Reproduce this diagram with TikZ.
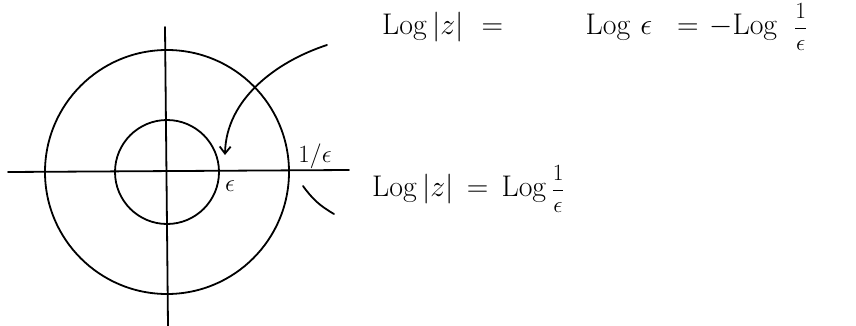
\documentclass[tikz,border=0pt]{standalone}
\usepackage{graphicx}
\usepackage{amsmath}
\usetikzlibrary{arrows.meta}
\newcommand{\myfrac}{\scalebox{0.78}{$\dfrac{1}{\epsilon}$}}
\begin{document}
\begin{tikzpicture}[x=1pt,y=-1pt,
  stroke/.style={line width=1.8pt, line cap=round},
  ring/.style={circle, draw, line width=1.8pt, inner sep=0pt},
  lbl/.style={font=\fontsize{24}{28}\selectfont, inner sep=0pt},
  small/.style={font=\fontsize{24}{28}\selectfont, inner sep=0pt}]
\useasboundingbox (0,0) rectangle (856,326);
\coordinate (O) at (167,172);
% axes
\coordinate (xl) at (8,172);
\coordinate (xr) at (349,170);
\coordinate (yt) at (165,27);
\coordinate (yb) at (168,326);
\draw[stroke] (xl) -- (xr);
\draw[stroke] (yt) -- (yb);
% circles
\node[ring, minimum size=244pt] (outer) at (O) {};
\node[ring, minimum size=104pt] (inner) at (O) {};
% labels on circles
\node[small] (eps) at (230,186) {$\epsilon$};
\node[small] (inv) at (315,156) {$1/\epsilon$};
% text
\node[lbl, anchor=west] (top) at (382,27) {\scalebox{1.2}{$\mathrm{Log}\,|z|\hspace{8pt}=\hspace{62pt}\mathrm{Log}\hspace{8pt}\epsilon\hspace{14pt}=\hspace{2pt}-\mathrm{Log}\hspace{14pt}\myfrac$}};
\node[lbl, anchor=west] (mid) at (372,189) {\scalebox{1.2}{$\mathrm{Log}\,|z|\,=\,\mathrm{Log}\,\myfrac$}};
% connectors
\coordinate (a1) at (327,45);
\coordinate (a2) at (225,155);
\draw[stroke, -{Straight Barb[length=7pt,width=11pt]}] (a1) .. controls (275,62) and (226,100) .. (a2);
\coordinate (b1) at (303,186);
\coordinate (b2) at (334,214);
\draw[stroke] (b1) to[bend right=12] (b2);
\end{tikzpicture}
\end{document}
